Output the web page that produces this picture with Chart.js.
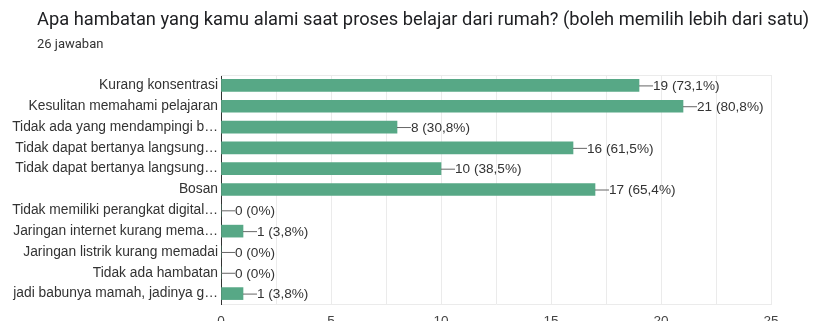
<!DOCTYPE html>
<html>
<head>
<meta charset="utf-8">
<script src="https://cdn.jsdelivr.net/npm/chart.js@4"></script>
<style>
  html, body { margin: 0; padding: 0; background: #fff; }
  #wrap { position: relative; width: 821px; height: 321px; overflow: hidden; }
  #title { position: absolute; left: 37px; top: 8px; font: 18.3px Roboto, sans-serif; color: #202124; white-space: nowrap; }
  #sub { position: absolute; left: 37px; top: 36px; font: 13px Roboto, sans-serif; color: #333; }
  #chart { position: absolute; left: 0; top: 0; }
</style>
</head>
<body>
<div id="wrap">
  <canvas id="chart" width="821" height="321"></canvas>
  <div id="title">Apa hambatan yang kamu alami saat proses belajar dari rumah? (boleh memilih lebih dari satu)</div>
  <div id="sub">26 jawaban</div>
</div>
<script>
const totalResponses = 26;
const categories = [
    'Kurang konsentrasi',
    'Kesulitan memahami pelajaran',
    'Tidak ada yang mendampingi b…',
    'Tidak dapat bertanya langsung…',
    'Tidak dapat bertanya langsung…',
    'Bosan',
    'Tidak memiliki perangkat digital…',
    'Jaringan internet kurang mema…',
    'Jaringan listrik kurang memadai',
    'Tidak ada hambatan',
    'jadi babunya mamah, jadinya g…'
];
const counts = [19, 21, 8, 16, 10, 17, 0, 1, 0, 0, 1];
const xTicks = [0, 5, 10, 15, 20, 25];

function pctText(v) {
    if (v === 0) return '0%';
    return (v / totalResponses * 100).toFixed(1).replace('.', ',') + '%';
}

// value labels with the little leader line
const valueLabels = {
    id: 'valueLabels',
    afterDatasetsDraw(chart) {
        const ctx = chart.ctx;
        const meta = chart.getDatasetMeta(0);
        ctx.save();
        ctx.font = '13.6px "Liberation Sans", Arial, sans-serif';
        ctx.textBaseline = 'middle';
        meta.data.forEach((bar, i) => {
            const x = bar.x, y = bar.y;
            ctx.strokeStyle = '#666';
            ctx.lineWidth = 1;
            ctx.beginPath();
            ctx.moveTo(x, y + 0.5);
            ctx.lineTo(x + 14, y + 0.5);
            ctx.stroke();
            ctx.fillStyle = '#333';
            ctx.fillText(counts[i] + ' (' + pctText(counts[i]) + ')', x + 14, y + 1);
        });
        ctx.restore();
    }
};

// thin frame line at the top of the plot
const topLine = {
    id: 'topLine',
    beforeDatasetsDraw(chart) {
        const a = chart.chartArea, ctx = chart.ctx;
        ctx.save();
        ctx.strokeStyle = '#ebebeb';
        ctx.beginPath();
        ctx.moveTo(a.left, a.top + 0.5);
        ctx.lineTo(a.right, a.top + 0.5);
        ctx.stroke();
        ctx.restore();
    }
};

new Chart(document.getElementById('chart'), {
    type: 'bar',
    data: {
        labels: categories,
        datasets: [{
            data: counts,
            backgroundColor: '#57a886',
            barThickness: 12
        }]
    },
    options: {
        indexAxis: 'y',
        responsive: false,
        animation: false,
        layout: { padding: { top: 75, right: 50, left: 0, bottom: 0 } },
        plugins: { legend: { display: false }, tooltip: { enabled: false } },
        scales: {
            x: {
                min: 0,
                max: 25,
                ticks: {
                    stepSize: 2.5,
                    autoSkip: false,
                    maxRotation: 0,
                    padding: 9,
                    color: '#444',
                    font: { family: '"Liberation Sans", Arial, sans-serif', size: 13.6 },
                    callback: v => xTicks.includes(v) ? String(v) : ''
                },
                grid: {
                    color: ctx => ctx.tick && ctx.tick.value === 0 ? 'rgba(0,0,0,0)' : '#ebebeb',
                    drawTicks: false
                },
                border: { color: '#ebebeb' },
                afterFit(scale) { scale.height = 17; }
            },
            y: {
                ticks: {
                    autoSkip: false,
                    padding: 3,
                    color: '#333',
                    font: { family: '"Liberation Sans", Arial, sans-serif', size: 13.8 }
                },
                grid: { display: false, drawTicks: false },
                border: { color: '#333', width: 1 },
                afterFit(scale) { scale.width = 221; }
            }
        }
    },
    plugins: [topLine, valueLabels]
});
</script>
</body>
</html>
